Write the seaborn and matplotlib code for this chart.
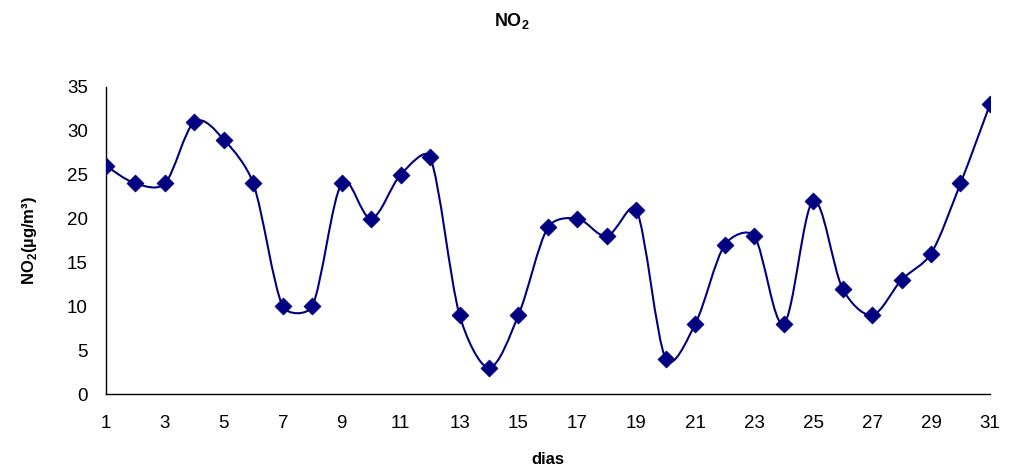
import numpy as np
import pandas as pd
import matplotlib
matplotlib.use('Agg')
import matplotlib.pyplot as plt
from matplotlib.path import Path
from matplotlib.patches import PathPatch
import seaborn as sns

# Dados
dias = list(range(1, 32))
no2 = [26, 24, 24, 31, 29, 24, 10, 10, 24, 20, 25, 27, 9, 3, 9, 19,
       20, 18, 21, 4, 8, 17, 18, 8, 22, 12, 9, 13, 16, 24, 33]
xticks = list(range(1, 32, 2))
yticks = list(range(0, 36, 5))

cor = '#000080'

sns.set_style('white')
plt.rcParams['font.family'] = ['Liberation Sans', 'DejaVu Sans']
plt.rcParams['text.color'] = 'black'
plt.rcParams['axes.labelcolor'] = 'black'
plt.rcParams['mathtext.fontset'] = 'custom'
plt.rcParams['mathtext.rm'] = 'Liberation Sans'
plt.rcParams['mathtext.bf'] = 'Liberation Sans:bold'

df = pd.DataFrame({'dias': dias, 'no2': no2})

fig = plt.figure(figsize=(10.12, 4.70), dpi=100)
ax = fig.add_axes([0.1047, 0.1617, 0.8735, 0.6533])
ax.set_xlim(1, 31)
ax.set_ylim(0, 35)

# linha suavizada tipo Excel: bezier Catmull-Rom em pixels,
# com as tangentes limitadas pelo comprimento do segmento
sx = fig.get_figwidth() * fig.dpi * 0.8735 / 30
sy = fig.get_figheight() * fig.dpi * 0.6533 / 35
p = np.column_stack([np.array(dias, float) * sx, np.array(no2, float) * sy])
n = len(p)


def tangente(d, limite):
    d = d / 6
    L = np.linalg.norm(d)
    if L > limite:
        d = d * limite / L
    return d


verts = [p[0]]
codes = [Path.MOVETO]
for i in range(n - 1):
    a, b = p[i], p[i + 1]
    seg = np.linalg.norm(b - a)
    c1 = a + tangente(p[i + 1] - p[max(i - 1, 0)], seg * 0.35)
    c2 = b - tangente(p[min(i + 2, n - 1)] - p[i], seg * 0.35)
    verts += [c1, c2, b]
    codes += [Path.CURVE4] * 3
verts = np.array(verts) / [sx, sy]
ax.add_patch(PathPatch(Path(verts, codes), facecolor='none', edgecolor=cor, lw=1.5, zorder=2))

sns.scatterplot(data=df, x='dias', y='no2', marker='D', s=75, color=cor,
                edgecolor=cor, linewidth=0.5, ax=ax, zorder=3)

ax.set_xlim(1, 31)
ax.set_ylim(0, 35)
ax.set_xticks(xticks)
ax.set_yticks(yticks)
ax.tick_params(axis='both', direction='out', length=5, width=1, labelsize=13.5, colors='black')
ax.tick_params(axis='x', pad=10)
ax.tick_params(axis='y', pad=8)
sns.despine(ax=ax)
for s in ['left', 'bottom']:
    ax.spines[s].set_color('black')
    ax.spines[s].set_linewidth(1)

ax.set_xlabel('dias', fontsize=12, fontweight='bold')
ax.set_ylabel(r'NO$_\mathbf{2}$(µg/m³)', fontsize=12, fontweight='bold')
ax.xaxis.set_label_coords(0.5, -0.212)
ax.yaxis.set_label_coords(-0.086, 0.5)
ax.xaxis.label.set_va('center')
ax.yaxis.label.set_va('center')
fig.text(0.506, 0.955, r'NO$_\mathbf{2}$', fontsize=13, fontweight='bold', ha='center', va='center')

fig.savefig('out.png', dpi=100)
